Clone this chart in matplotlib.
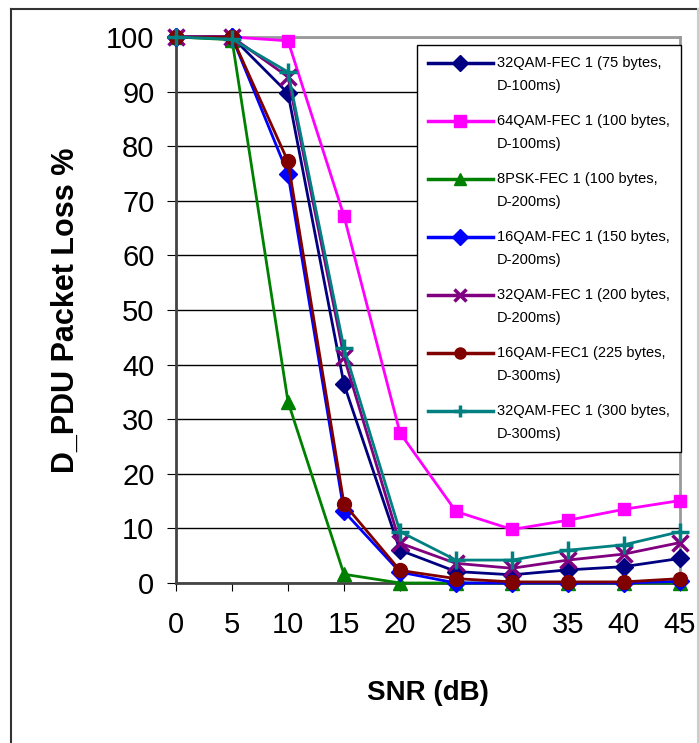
import numpy as np
import matplotlib.pyplot as plt
from matplotlib.lines import Line2D
from matplotlib.legend_handler import HandlerLine2D

plt.rcParams['font.family'] = ['Liberation Sans', 'DejaVu Sans']

snr = [0, 5, 10, 15, 20, 25, 30, 35, 40, 45]

qam32_75 = [100, 100, 89.7, 36.4, 6.0, 2.1, 1.5, 2.4, 3.0, 4.5]
qam64_100 = [100, 100, 99.3, 67.2, 27.5, 13.1, 9.8, 11.5, 13.5, 15.1]
psk8_100 = [100, 99.5, 33.2, 1.6, 0.0, 0.0, 0.0, 0.0, 0.0, 0.0]
qam16_150 = [100, 100, 74.9, 13.1, 2.0, 0.0, 0.0, 0.0, 0.0, 0.3]
qam32_200 = [100, 100, 92.7, 41.4, 7.3, 3.6, 2.7, 4.2, 5.3, 7.4]
qam16_225 = [100, 100, 77.2, 14.5, 2.3, 0.8, 0.2, 0.2, 0.2, 0.8]
qam32_300 = [100, 99.6, 93.6, 43.0, 9.4, 4.2, 4.2, 6.0, 7.0, 9.4]

labels = [
    "32QAM-FEC 1 (75 bytes,\nD-100ms)",
    "64QAM-FEC 1 (100 bytes,\nD-100ms)",
    "8PSK-FEC 1 (100 bytes,\nD-200ms)",
    "16QAM-FEC 1 (150 bytes,\nD-200ms)",
    "32QAM-FEC 1 (200 bytes,\nD-200ms)",
    "16QAM-FEC1 (225 bytes,\nD-300ms)",
    "32QAM-FEC 1 (300 bytes,\nD-300ms)",
]
series = [qam32_75, qam64_100, psk8_100, qam16_150, qam32_200, qam16_225, qam32_300]
colors = ['#000080', '#FF00FF', '#008000', '#0000FF', '#800080', '#800000', '#008080']
markers = ['D', 's', '^', 'D', 'x', 'o', '+']
msizes = [9, 9, 10, 9, 11, 10, 13]


class FirstLineHandler(HandlerLine2D):
    # put the legend line next to the first line of a two-line label
    def create_artists(self, legend, orig_handle, xdescent, ydescent,
                       width, height, fontsize, trans):
        arts = super().create_artists(legend, orig_handle, xdescent, ydescent,
                                      width, height, fontsize, trans)
        for a in arts:
            a.set_ydata(np.asarray(a.get_ydata()) + 0.8 * fontsize)
        return arts


fig = plt.figure(figsize=(6.99, 7.43), dpi=100)
W, H = 699, 743
ax = fig.add_axes([176 / W, 1 - 583 / H, (680 - 176) / W, (583 - 37) / H])

# outer chart border (cropped)
fig.add_artist(Line2D([11 / W, 11 / W], [0, 1 - 9 / H], color='#333333', lw=1.5))
fig.add_artist(Line2D([11 / W, 1], [1 - 9 / H, 1 - 9 / H], color='#333333', lw=1.5))
fig.add_artist(Line2D([698 / W, 698 / W], [0, 1 - 9 / H], color='#cccccc', lw=1.5))

for y, lab, c, m, ms in zip(series, labels, colors, markers, msizes):
    ax.plot(snr, y, color=c, marker=m, markersize=ms, lw=2, label=lab,
            markeredgewidth=2.5 if m in ('x', '+') else 1, markeredgecolor=c,
            clip_on=False, zorder=3)

ax.set_xlim(0, 45)
ax.set_ylim(0, 100)
ax.set_xticks(range(0, 50, 5))
ax.set_yticks(range(0, 110, 10))
ax.grid(axis='y', color='black', lw=1)
ax.set_axisbelow(True)

for s in ['top', 'right']:
    ax.spines[s].set_color('#999999')
    ax.spines[s].set_linewidth(2)
for s in ['left', 'bottom']:
    ax.spines[s].set_color('#444444')
    ax.spines[s].set_linewidth(2)

ax.tick_params(axis='y', direction='out', length=6.5, labelsize=21, pad=9)
ax.tick_params(axis='x', direction='out', length=6, labelsize=21, pad=14)

ax.set_xlabel("SNR (dB)", fontsize=20, fontweight='bold', labelpad=30)
ax.set_ylabel("D_PDU Packet Loss %", fontsize=22, fontweight='bold', labelpad=18)

leg = ax.legend(loc='upper left', bbox_to_anchor=(0.478, 0.985), fontsize=10.5,
                frameon=True, fancybox=False, edgecolor='black', framealpha=1,
                handlelength=4.45, handletextpad=0.28, labelspacing=1.45,
                borderpad=0.75, borderaxespad=0,
                handler_map={Line2D: FirstLineHandler()})
leg.get_frame().set_linewidth(1)
for t in leg.get_texts():
    t.set_linespacing(1.8)
for h in leg.legend_handles:
    h.set_markersize(8)
    h.set_linewidth(2.5)

plt.savefig("out.png", dpi=100)
